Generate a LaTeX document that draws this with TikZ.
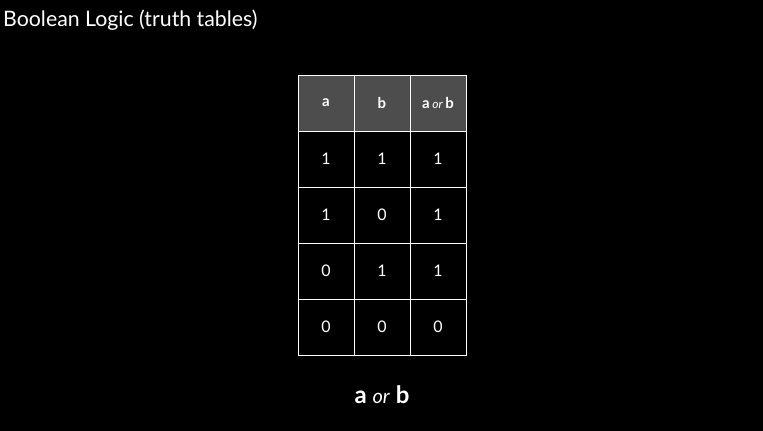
\documentclass[tikz,border=0pt]{standalone}
\usepackage{fontspec}
\setmainfont{Lato}
\definecolor{headgrey}{HTML}{4D4D4D}

\begin{document}
\begin{tikzpicture}[
        x=1pt, y=-1pt,
        %
        % cells of the truth table
        cell/.style={draw=white, line width=0.9pt, minimum width=56pt,
            minimum height=56pt, inner sep=0pt, text=white,
            font=\fontsize{16}{18}\selectfont},
        headcell/.style={cell, fill=headgrey,
            font=\bfseries\fontsize{15}{17}\selectfont}
    ]

        % Black slide as background
        \useasboundingbox[fill=black] (0,0) rectangle (763,431);

        % Define grid parameters
        \def\xmin{298} \def\ymin{75}
        \def\cellw{56}

        % Title of the slide
        \node[anchor=base west, inner sep=0pt, text=white,
              font=\fontsize{21.3}{25}\selectfont] (title) at (3,26)
            {Boolean Logic (truth tables)};

        % Draw the header row
        \node[headcell] (ha) at (\xmin+0.5*\cellw, \ymin+0.5*\cellw) {a};
        \node[headcell] (hb) at (\xmin+1.5*\cellw, \ymin+0.5*\cellw) {b};
        \node[headcell] (hab) at (\xmin+2.5*\cellw, \ymin+0.5*\cellw)
            {a\,\textmd{\itshape\fontsize{12}{14}\selectfont or}\,b};

        % Draw the rows of the table
        \foreach \a/\b/\c [count=\r] in {1/1/1, 1/0/1, 0/1/1, 0/0/0} {
            \node[cell] (a\r) at (\xmin+0.5*\cellw, \ymin+\r*\cellw+0.5*\cellw) {\a};
            \node[cell] (b\r) at (\xmin+1.5*\cellw, \ymin+\r*\cellw+0.5*\cellw) {\b};
            \node[cell] (c\r) at (\xmin+2.5*\cellw, \ymin+\r*\cellw+0.5*\cellw) {\c};
        }

        % Caption below the table
        \node[anchor=base, inner sep=0pt, text=white,
              font=\bfseries\fontsize{24}{28}\selectfont] (caption) at (382,403)
            {a \textmd{\itshape\fontsize{20}{24}\selectfont or} b};

    \end{tikzpicture}
\end{document}
